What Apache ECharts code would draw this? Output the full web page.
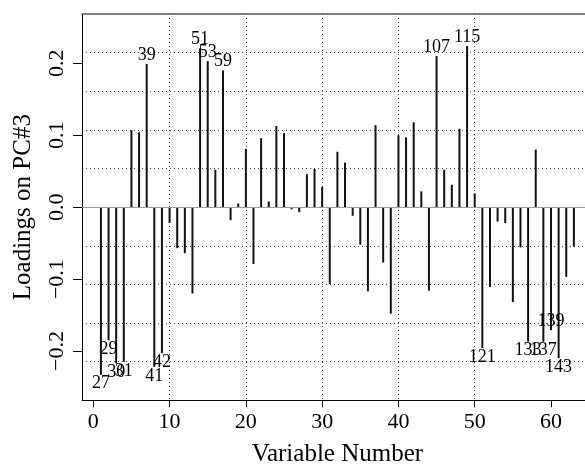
<!DOCTYPE html>
<html>
<head>
<meta charset="utf-8">
<script src="https://cdn.jsdelivr.net/npm/echarts@6/dist/echarts.min.js"></script>
<style>
html,body{margin:0;padding:0;background:#fff;}
#chart{width:585px;height:466px;}
</style>
</head>
<body>
<div id="chart"></div>
<script>
// Loadings on PC#3 for variables 1..63
const loadings = [
  -0.233, -0.185, -0.217, -0.215, 0.107, 0.104, 0.199, -0.222, -0.203, -0.022,
  -0.057, -0.064, -0.120, 0.221, 0.203, 0.052, 0.190, -0.018, 0.005, 0.081,
  -0.079, 0.096, 0.008, 0.113, 0.103, -0.003, -0.007, 0.046, 0.053, 0.028,
  -0.107, 0.077, 0.062, -0.012, -0.052, -0.117, 0.114, -0.077, -0.148, 0.100,
  0.097, 0.118, 0.022, -0.116, 0.210, 0.052, 0.031, 0.109, 0.224, 0.019,
  -0.196, -0.111, -0.020, -0.022, -0.132, -0.056, -0.187, 0.080, -0.187, -0.171,
  -0.210, -0.097, -0.055
];
// Variables annotated with their original names
const labelledVars = [1, 2, 3, 4, 7, 8, 9, 14, 15, 17, 45, 49, 51, 57, 59, 60, 61];
const labelTexts = ['27', '29', '30', '31', '39', '41', '42', '51', '53', '59', '107', '115', '121', '133', '137', '139', '143'];
const xTicks = [0, 10, 20, 30, 40, 50, 60];
const yTicks = [-0.2, -0.1, 0.0, 0.1, 0.2];

const FONT = '"Liberation Serif", "Times New Roman", serif';
const insideLabels = ['139'];

const barData = loadings.map((v, i) => {
  const num = i + 1;
  const k = labelledVars.indexOf(num);
  const item = { value: [num, v] };
  if (k >= 0) {
    const txt = labelTexts[k];
    let pos = v >= 0 ? 'top' : 'bottom';
    if (insideLabels.indexOf(txt) >= 0) pos = 'insideBottom';
    item.label = {
      show: true, formatter: txt, position: pos, distance: 0,
      fontFamily: FONT, fontSize: 18, color: '#000'
    };
  }
  return item;
});

const chart = echarts.init(document.getElementById('chart'), null, { renderer: 'canvas' });
chart.setOption({
  animation: false,
  backgroundColor: '#fff',
  grid: { left: 82, top: 14, right: -7.8, bottom: 65.7, containLabel: false, outerBoundsMode: 'none' },
  xAxis: [
    {
      type: 'value', min: -1.48, max: 65.48, position: 'bottom',
      name: 'Variable Number', nameLocation: 'middle', nameGap: 42,
      nameTextStyle: { fontFamily: FONT, fontSize: 25, color: '#000' },
      axisLine: { show: true, onZero: false, lineStyle: { color: '#000', width: 1 } },
      axisTick: { show: true, inside: false, length: 7, customValues: xTicks, lineStyle: { color: '#000' } },
      axisLabel: { show: true, customValues: xTicks, margin: 11, fontFamily: FONT, fontSize: 22, color: '#000' },
      splitLine: { show: true, showMinLine: false, showMaxLine: false, lineStyle: { color: '#444', type: [1, 3], width: 1 } }
    },
    {
      type: 'value', min: -1.48, max: 65.48, position: 'top',
      axisLine: { show: true, onZero: false, lineStyle: { color: '#555', width: 1.5 } },
      axisTick: { show: false }, axisLabel: { show: false }, splitLine: { show: false }
    }
  ],
  yAxis: [
    {
      type: 'value', min: -0.2685, max: 0.2685, position: 'left',
      name: 'Loadings on PC#3', nameLocation: 'middle', nameGap: 46,
      nameTextStyle: { fontFamily: FONT, fontSize: 25, color: '#000' },
      axisLine: { show: true, onZero: false, lineStyle: { color: '#000', width: 1 } },
      axisTick: { show: true, inside: false, length: 9, customValues: yTicks, lineStyle: { color: '#000' } },
      axisLabel: {
        show: true, customValues: yTicks, rotate: 90, margin: 14,
        fontFamily: FONT, fontSize: 22, color: '#000',
        formatter: v => (v < 0 ? '\u2212' : '') + Math.abs(v).toFixed(1)
      },
      splitLine: { show: false }
    },
    {
      type: 'value', min: 0, max: 10, interval: 1, position: 'right',
      axisLine: { show: false }, axisTick: { show: false }, axisLabel: { show: false },
      splitLine: { show: true, showMinLine: false, showMaxLine: false, lineStyle: { color: '#444', type: [1, 3], width: 1 } }
    }
  ],
  series: [
    {
      type: 'bar', xAxisIndex: 0, yAxisIndex: 0,
      barWidth: 2,
      itemStyle: { color: '#111' },
      data: barData,
      markLine: {
        silent: true, symbol: 'none', label: { show: false },
        lineStyle: { color: '#3fdc3f', width: 1, type: 'solid' },
        data: [{ yAxis: 0 }]
      }
    }
  ]
});
</script>
</body>
</html>
